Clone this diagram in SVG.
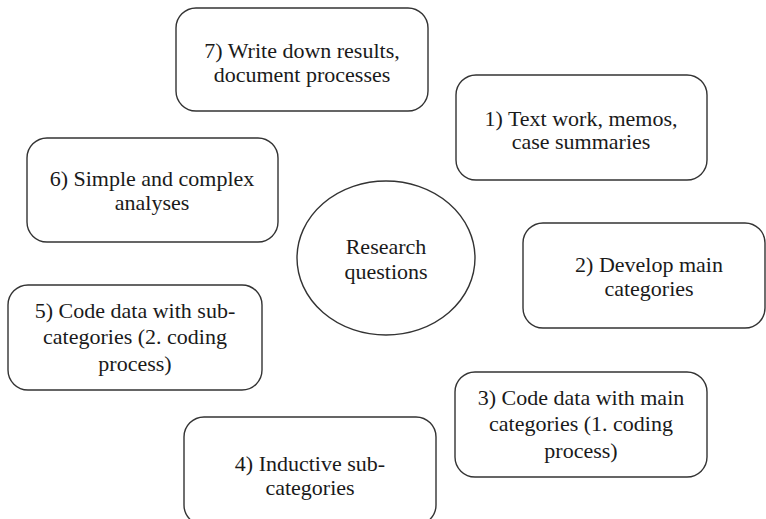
<svg xmlns="http://www.w3.org/2000/svg" width="766" height="519" viewBox="0 0 766 519">
<style>
.box{fill:#fff;stroke:#333;stroke-width:1.4}
</style>
<rect width="766" height="519" fill="#fff"/>
<g id="connectors"></g>
<g font-family="'Liberation Serif', 'Times New Roman', Tinos, 'DejaVu Serif', serif" font-size="22" fill="#1a1a1a" text-anchor="middle">
<g id="n7"><rect class="box" x="176" y="8" width="252" height="103" rx="20"/>
<text x="302" y="58">7) Write down results,</text><text x="302" y="82">document processes</text></g>
<g id="n1"><rect class="box" x="456" y="75" width="251" height="105" rx="20"/>
<text x="581" y="126">1) Text work, memos,</text><text x="581" y="149">case summaries</text></g>
<g id="n6"><rect class="box" x="27" y="138" width="251" height="104" rx="20"/>
<text x="152" y="186">6) Simple  and complex</text><text x="152" y="210">analyses</text></g>
<g id="rq"><ellipse class="box" cx="386" cy="258" rx="89" ry="77"/>
<text x="386" y="254">Research</text><text x="386" y="279">questions</text></g>
<g id="n2"><rect class="box" x="523" y="223" width="242" height="105" rx="20"/>
<text x="649" y="272">2) Develop main</text><text x="649" y="296">categories</text></g>
<g id="n5"><rect class="box" x="8" y="285" width="254" height="105" rx="20"/>
<text x="135" y="318">5) Code data with  sub-</text><text x="135" y="344">categories (2. coding</text><text x="135" y="371">process)</text></g>
<g id="n3"><rect class="box" x="455" y="372" width="252" height="105" rx="20"/>
<text x="581" y="405">3) Code data with  main</text><text x="581" y="431">categories (1. coding</text><text x="581" y="458">process)</text></g>
<g id="n4"><rect class="box" x="184" y="417" width="252" height="108" rx="20"/>
<text x="310" y="471">4) Inductive sub-</text><text x="310" y="495">categories</text></g>
</g>
</svg>
